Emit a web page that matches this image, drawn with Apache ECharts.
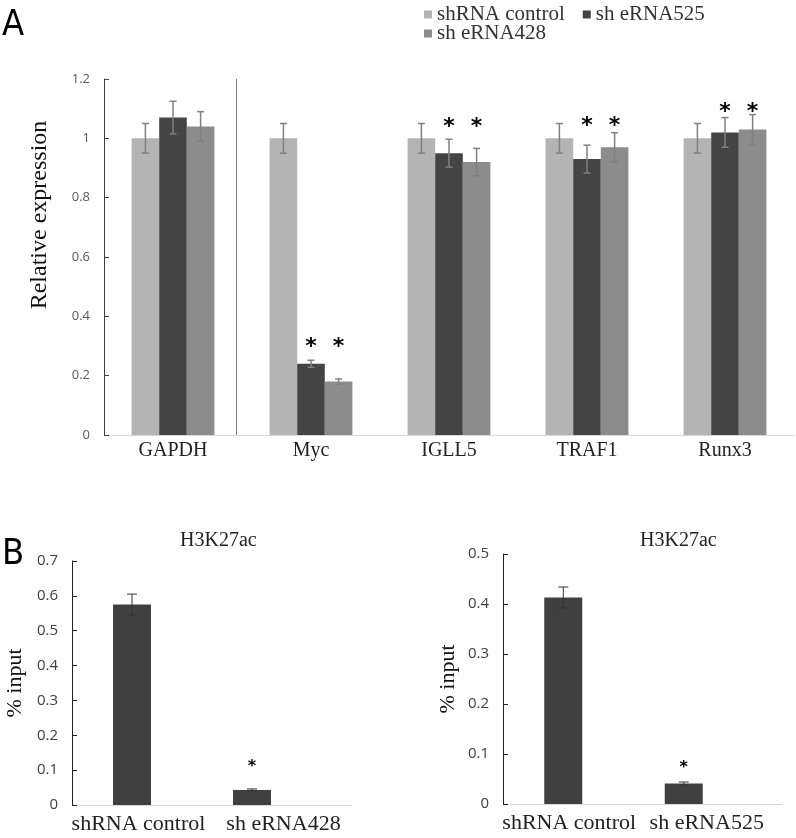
<!DOCTYPE html>
<html>
<head>
<meta charset="utf-8">
<script src="https://cdn.jsdelivr.net/npm/echarts@6/dist/echarts.min.js"></script>
<style>
  html, body { margin: 0; padding: 0; background: #fff; }
  #chart { width: 796px; height: 838px; }
</style>
</head>
<body>
<div id="chart"></div>
<script>
// panel A: relative expression after knockdown
const genes = ['GAPDH', 'Myc', 'IGLL5', 'TRAF1', 'Runx3'];
const controlVals = [1.0, 1.0, 1.0, 1.0, 1.0];
const controlErr = [0.05, 0.05, 0.05, 0.05, 0.05];
const e525Vals = [1.07, 0.24, 0.95, 0.93, 1.02];
const e525Err = [0.055, 0.012, 0.047, 0.047, 0.05];
const e428Vals = [1.04, 0.18, 0.92, 0.97, 1.03];
const e428Err = [0.05, 0.009, 0.046, 0.049, 0.05];
const starLevelA = [null, 0.317, 1.057, 1.061, 1.107];
const dividerAt = 0.96; // in category widths from the left of panel A

// panel B: H3K27ac ChIP, % input
const chipGroups428 = ['shRNA control', 'sh eRNA428'];
const chip428Vals = [0.575, 0.043];
const chip428Err = [0.03, 0.003];
const chip428Star = [null, 0.121];
const chipGroups525 = ['shRNA control', 'sh eRNA525'];
const chip525Vals = [0.413, 0.041];
const chip525Err = [0.021, 0.003];
const chip525Star = [null, 0.081];

const serif = 'Liberation Serif';
const sans = 'Open Sans';

// error bars (and the significance stars) drawn on top of the bars
function errorBars(o) {
  return {
    type: 'custom',
    xAxisIndex: o.axis,
    yAxisIndex: o.axis,
    z: 5,
    silent: true,
    data: o.vals.map((v, i) => [i, v, o.errs[i]]),
    renderItem: function (params, api) {
      const i = api.value(0), v = api.value(1), e = api.value(2);
      const band = api.size([1, 0])[0];
      const bw = o.barWidth || band * (1 - o.gap) / o.count;
      const x = api.coord([i, v])[0] + (o.slot - (o.count - 1) / 2) * bw;
      const top = api.coord([i, v + e])[1];
      const bot = api.coord([i, v - e])[1];
      const st = { stroke: o.color, lineWidth: o.lineW };
      const h = o.capW / 2;
      const kids = [
        { type: 'line', shape: { x1: x, y1: top, x2: x, y2: bot }, style: st },
        { type: 'line', shape: { x1: x - h, y1: top, x2: x + h, y2: top }, style: st },
        { type: 'line', shape: { x1: x - h, y1: bot, x2: x + h, y2: bot }, style: st }
      ];
      const s = o.stars ? o.stars[params.dataIndex] : null;
      if (s != null) {
        kids.push({
          type: 'text',
          x: x,
          y: api.coord([i, s])[1] + o.starShift,
          style: {
            text: '*', fill: '#000', align: 'center', verticalAlign: 'middle',
            font: 'bold ' + o.starSize + 'px DejaVu Sans'
          }
        });
      }
      return { type: 'group', children: kids };
    }
  };
}

function chipYAxis(grid, max, nameGap) {
  return {
    type: 'value', gridIndex: grid, min: 0, max: max, interval: 0.1,
    axisLine: { show: true, lineStyle: { color: '#222', width: 1 } },
    axisTick: { show: true, inside: true, length: 5, lineStyle: { color: '#222' } },
    axisLabel: { color: '#404040', fontSize: 15, fontFamily: sans, margin: 14 },
    splitLine: { show: false },
    name: '% input', nameLocation: 'middle', nameGap: nameGap,
    nameTextStyle: { fontFamily: serif, fontSize: 22, color: '#111' }
  };
}

function chipXAxis(grid, cats, pads) {
  return {
    type: 'category', gridIndex: grid, data: cats,
    axisLine: { show: false }, axisTick: { show: false },
    axisLabel: {
      interval: 0,
      hideOverlap: false,
      margin: 8,
      formatter: (val, idx) => '{c' + idx + '|' + val + '}',
      rich: {
        c0: { fontFamily: serif, fontSize: 22, color: '#222', padding: [0, 0, 0, pads[0]] },
        c1: { fontFamily: serif, fontSize: 22, color: '#222', padding: [0, 0, 0, pads[1]] }
      }
    }
  };
}

function frameXAxis(grid) {
  return {
    type: 'value', gridIndex: grid, min: 0, max: 1,
    axisLine: { show: true, lineStyle: { color: '#d9d9d9', width: 1 } },
    axisTick: { show: false }, axisLabel: { show: false }, splitLine: { show: false }
  };
}

const legendText = { fontFamily: serif, fontSize: 21, color: '#333' };
const legendItem = (name) => ({ name: name, icon: 'rect', textStyle: legendText });

const chart = echarts.init(document.getElementById('chart'));

const option = {
  backgroundColor: '#fff',
  animation: false,
  textStyle: { fontFamily: serif },
  title: [
    { text: 'A', left: 2, top: 8, padding: 0,
      textStyle: { fontFamily: 'DejaVu Sans Condensed', fontSize: 36, fontWeight: 'normal', color: '#000' } },
    { text: 'B', left: 2, top: 537, padding: 0,
      textStyle: { fontFamily: 'DejaVu Sans Condensed', fontSize: 36, fontWeight: 'normal', color: '#000' } },
    { text: 'H3K27ac', left: 180, top: 531, padding: 0,
      textStyle: { fontFamily: serif, fontSize: 20, fontWeight: 'normal', color: '#222' } },
    { text: 'H3K27ac', left: 640, top: 531, padding: 0,
      textStyle: { fontFamily: serif, fontSize: 20, fontWeight: 'normal', color: '#222' } }
  ],
  legend: [
    { data: [legendItem('shRNA control'), legendItem('sh eRNA525')], left: 424, top: 4, padding: 0,
      icon: 'rect', itemWidth: 8, itemHeight: 8, itemGap: 18, selectedMode: false,
      textStyle: legendText },
    { data: [legendItem('sh eRNA428')], left: 424, top: 23, padding: 0,
      icon: 'rect', itemWidth: 8, itemHeight: 8, selectedMode: false,
      textStyle: legendText }
  ],
  grid: [
    { left: 104, top: 79, width: 690, height: 356 },
    { left: 72, top: 561, width: 240, height: 244 },
    { left: 72, top: 561, width: 280, height: 244 },
    { left: 503, top: 554, width: 241, height: 250 },
    { left: 503, top: 554, width: 279, height: 250 }
  ],
  xAxis: [
    {
      type: 'category', gridIndex: 0, data: genes,
      axisLine: { show: true, lineStyle: { color: '#d9d9d9', width: 1 } },
      axisTick: { show: false },
      axisLabel: { fontFamily: serif, fontSize: 20, color: '#222', margin: 6 },
      splitLine: { show: false }
    },
    chipXAxis(1, chipGroups428, [13, 63]),
    frameXAxis(2),
    chipXAxis(3, chipGroups525, [12, 46]),
    frameXAxis(4),
    // hidden helper axis over panel A, one unit per gene, for the divider line
    { type: 'value', gridIndex: 0, min: 0, max: genes.length, show: false }
  ],
  yAxis: [
    {
      type: 'value', gridIndex: 0, min: 0, max: 1.2, interval: 0.2,
      axisLine: { show: true, lineStyle: { color: '#404040', width: 1 } },
      axisTick: { show: true, inside: true, length: 5, lineStyle: { color: '#404040' } },
      axisLabel: { color: '#595959', fontSize: 13, fontFamily: sans, margin: 14 },
      splitLine: { show: false },
      name: 'Relative expression', nameLocation: 'middle', nameGap: 52,
      nameTextStyle: { fontFamily: serif, fontSize: 24, color: '#111', padding: [0, 0, 0, 84] }
    },
    chipYAxis(1, 0.7, 46),
    { type: 'value', gridIndex: 2, show: false, min: 0, max: 1 },
    chipYAxis(3, 0.5, 44),
    { type: 'value', gridIndex: 4, show: false, min: 0, max: 1 }
  ],
  series: [
    { type: 'bar', name: 'shRNA control', data: controlVals, xAxisIndex: 0, yAxisIndex: 0,
      itemStyle: { color: '#b4b4b4' } },
    { type: 'bar', name: 'sh eRNA525', data: e525Vals, xAxisIndex: 0, yAxisIndex: 0,
      itemStyle: { color: '#444444' } },
    { type: 'bar', name: 'sh eRNA428', data: e428Vals, xAxisIndex: 0, yAxisIndex: 0,
      itemStyle: { color: '#8c8c8c' }, barGap: '0%', barCategoryGap: '40%' },
    errorBars({ axis: 0, vals: controlVals, errs: controlErr, slot: 0, count: 3, gap: 0.4,
      color: '#808080', lineW: 1.5, capW: 7 }),
    errorBars({ axis: 0, vals: e525Vals, errs: e525Err, slot: 1, count: 3, gap: 0.4,
      color: '#808080', lineW: 1.5, capW: 7, stars: starLevelA, starSize: 22, starShift: 6 }),
    errorBars({ axis: 0, vals: e428Vals, errs: e428Err, slot: 2, count: 3, gap: 0.4,
      color: '#808080', lineW: 1.5, capW: 7, stars: starLevelA, starSize: 22, starShift: 6 }),
    {
      type: 'line', name: 'divider', data: [], xAxisIndex: 5, yAxisIndex: 0,
      silent: true,
      markLine: {
        silent: true, symbol: 'none', label: { show: false },
        lineStyle: { color: '#808080', width: 1, type: 'solid' },
        data: [{ xAxis: dividerAt }]
      }
    },

    { type: 'bar', name: 'ChIP 428', data: chip428Vals, xAxisIndex: 1, yAxisIndex: 1,
      barWidth: 38, itemStyle: { color: '#404040' } },
    errorBars({ axis: 1, vals: chip428Vals, errs: chip428Err, slot: 0, count: 1, barWidth: 38,
      color: '#333', lineW: 1, capW: 10, stars: chip428Star, starSize: 16, starShift: 4 }),

    { type: 'bar', name: 'ChIP 525', data: chip525Vals, xAxisIndex: 3, yAxisIndex: 3,
      barWidth: 38, itemStyle: { color: '#404040' } },
    errorBars({ axis: 3, vals: chip525Vals, errs: chip525Err, slot: 0, count: 1, barWidth: 38,
      color: '#333', lineW: 1, capW: 10, stars: chip525Star, starSize: 16, starShift: 4 })
  ]
};

chart.setOption(option);
window.addEventListener('resize', function () {
  chart.resize();
});
</script>
</body>
</html>
